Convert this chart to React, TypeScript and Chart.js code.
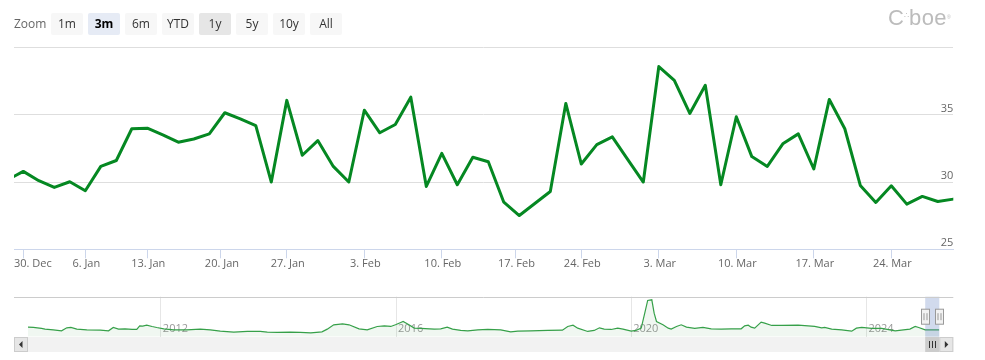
import React, { useEffect, useRef } from 'react';
import { Chart, registerables } from 'chart.js';

Chart.register(...registerables);

// ---------- main series (trading days, 27 Dec 2024 – 28 Mar 2025) ----------
const DATES = [
  '2024-12-27', '2024-12-30', '2024-12-31', '2025-01-02', '2025-01-03',
  '2025-01-06', '2025-01-07', '2025-01-08', '2025-01-10',
  '2025-01-13', '2025-01-14', '2025-01-15', '2025-01-16', '2025-01-17',
  '2025-01-21', '2025-01-22', '2025-01-23', '2025-01-24',
  '2025-01-27', '2025-01-28', '2025-01-29', '2025-01-30', '2025-01-31',
  '2025-02-03', '2025-02-04', '2025-02-05', '2025-02-06', '2025-02-07',
  '2025-02-10', '2025-02-11', '2025-02-12', '2025-02-13', '2025-02-14',
  '2025-02-18', '2025-02-19', '2025-02-20', '2025-02-21',
  '2025-02-24', '2025-02-25', '2025-02-26', '2025-02-27', '2025-02-28',
  '2025-03-03', '2025-03-04', '2025-03-05', '2025-03-06', '2025-03-07',
  '2025-03-10', '2025-03-11', '2025-03-12', '2025-03-13', '2025-03-14',
  '2025-03-17', '2025-03-18', '2025-03-19', '2025-03-20', '2025-03-21',
  '2025-03-24', '2025-03-25', '2025-03-26', '2025-03-27', '2025-03-28',
];
const VALUES = [
  30.17, 30.79, 30.1, 29.6, 30.02,
  29.35, 31.16, 31.6, 33.96,
  34.0, 33.5, 32.96, 33.2, 33.58,
  35.15, 34.7, 34.2, 30.0,
  36.07, 31.99, 33.08, 31.16, 30.0,
  35.34, 33.66, 34.28, 36.31, 29.67,
  32.13, 29.8, 31.84, 31.51, 28.5,
  27.51, 28.4, 29.3, 35.84,
  31.34, 32.78, 33.36, 31.66, 30.0,
  38.58, 37.56, 35.1, 37.19, 29.8,
  34.85, 31.89, 31.16, 32.84, 33.58,
  30.97, 36.14, 33.96, 29.75, 28.48,
  29.72, 28.36, 28.93, 28.55, 28.73,
];
const TICK_DATES = [
  '2024-12-30', '2025-01-06', '2025-01-13', '2025-01-20', '2025-01-27',
  '2025-02-03', '2025-02-10', '2025-02-17', '2025-02-24',
  '2025-03-03', '2025-03-10', '2025-03-17', '2025-03-24',
];
const TICK_LABELS = [
  '30. Dec', '6. Jan', '13. Jan', '20. Jan', '27. Jan',
  '3. Feb', '10. Feb', '17. Feb', '24. Feb',
  '3. Mar', '10. Mar', '17. Mar', '24. Mar',
];
const Y_TICKS = [25, 30, 35, 40];
const Y_MIN = 25;
const Y_MAX = 40;
const X_WINDOW_START = 0.4; // visible window starts between 27 Dec and 30 Dec

// ---------- navigator series (long history) ----------
const NAV_YEARS = [
  2009.74, 2009.83, 2009.97, 2010.03, 2010.17, 2010.31, 2010.40, 2010.47, 2010.57, 2010.74,
  2010.97, 2011.11, 2011.19, 2011.28, 2011.39, 2011.51, 2011.59, 2011.64, 2011.69, 2011.76,
  2011.85, 2011.93, 2012.05, 2012.22, 2012.44, 2012.67, 2012.84, 2013.01, 2013.24, 2013.47,
  2013.69, 2013.81, 2013.98, 2014.20, 2014.37, 2014.55, 2014.74, 2014.83, 2014.94, 2015.09,
  2015.20, 2015.37, 2015.51, 2015.68, 2015.80, 2015.91, 2015.99, 2016.08, 2016.12, 2016.19,
  2016.31, 2016.42, 2016.65, 2016.76, 2016.87, 2016.96, 2017.10, 2017.22, 2017.39, 2017.56,
  2017.78, 2017.95, 2018.07, 2018.29, 2018.58, 2018.83, 2018.92, 2019.01, 2019.09, 2019.26,
  2019.37, 2019.46, 2019.54, 2019.66, 2019.77, 2019.86, 2020.00, 2020.08, 2020.17, 2020.23,
  2020.28, 2020.35, 2020.39, 2020.43, 2020.54, 2020.63, 2020.68, 2020.77, 2020.85, 2020.94,
  2021.08, 2021.22, 2021.36, 2021.53, 2021.70, 2021.87, 2021.93, 2021.99, 2022.04, 2022.10,
  2022.21, 2022.27, 2022.39, 2022.56, 2022.84, 2023.12, 2023.24, 2023.29, 2023.41, 2023.58,
  2023.75, 2023.83, 2023.92, 2024.09, 2024.26, 2024.49, 2024.63, 2024.74, 2024.83, 2024.89,
  2025.00, 2025.24,
];
const NAV_VALUES = [
  36.7, 35.7, 32.7, 30.7, 28.7, 25.7, 34.7, 35.7, 30.7, 28.7,
  27.7, 25.7, 35.7, 30.7, 31.7, 29.7, 29.7, 40.7, 39.7, 42.7,
  38.7, 35.7, 31.7, 28.7, 28.7, 30.7, 28.7, 24.7, 21.7, 23.7,
  23.7, 21.7, 20.7, 21.7, 20.7, 19.7, 22.7, 30.7, 43.7, 46.7,
  43.7, 31.7, 28.7, 38.7, 40.7, 38.7, 43.7, 50.7, 53.7, 46.7,
  33.7, 32.7, 30.7, 31.7, 36.7, 30.7, 26.7, 25.7, 28.7, 29.7,
  28.7, 22.7, 24.7, 25.7, 26.7, 27.7, 38.7, 42.7, 33.7, 23.7,
  26.7, 34.7, 30.7, 29.7, 33.7, 30.7, 24.7, 26.7, 33.7, 78.7,
  116.7, 118.7, 78.7, 53.7, 43.7, 33.7, 30.7, 38.7, 43.7, 36.7,
  32.7, 35.7, 31.7, 30.7, 31.7, 31.7, 40.7, 42.7, 36.7, 33.7,
  51.7, 48.7, 41.7, 41.7, 42.7, 38.7, 34.7, 35.7, 30.7, 28.7,
  24.7, 33.7, 35.7, 32.7, 32.7, 25.7, 28.7, 30.7, 38.7, 35.7,
  28.7, 28.7,
];
const NAV_YEAR_TICKS = [2012, 2016, 2020, 2024];
const NAV_Y_MIN = 8;
const NAV_Y_MAX = 128;
const NAV_RANGE_START = 2025.0;

const ZOOM_BUTTONS = ['1m', '3m', '6m', 'YTD', '1y', '5y', '10y', 'All'];
const SELECTED_BUTTON = '3m';
const HOVER_BUTTON = '1y';

const FONT = '"Open Sans", "DejaVu Sans", Arial, sans-serif';
const LINE_GREEN = '#058822';

// ordinal (trading-day) position of any calendar date
function dayNum(s: string) {
  return Date.UTC(+s.slice(0, 4), +s.slice(5, 7) - 1, +s.slice(8, 10)) / 86400000;
}
const DAY_NUMS = DATES.map(dayNum);
function ordinalPos(date: string) {
  const d = dayNum(date);
  for (let i = 0; i < DAY_NUMS.length; i++) {
    if (DAY_NUMS[i] === d) return i;
    if (DAY_NUMS[i] > d) {
      return i - 1 + (d - DAY_NUMS[i - 1]) / (DAY_NUMS[i] - DAY_NUMS[i - 1]);
    }
  }
  return DAY_NUMS.length - 1;
}
const TICK_POS = TICK_DATES.map(ordinalPos);

const xLabelPlugin = {
  id: 'xLabels',
  afterDraw(chart: any) {
    const ctx = chart.ctx;
    const xs = chart.scales.x;
    const area = chart.chartArea;
    ctx.save();
    ctx.font = `11px ${FONT}`;
    ctx.fillStyle = '#666666';
    ctx.textBaseline = 'middle';
    ctx.textAlign = 'left';
    TICK_POS.forEach((p, i) => {
      const t = TICK_LABELS[i];
      const w = ctx.measureText(t).width;
      let x = xs.getPixelForValue(p) - w / 2 + 1;
      if (x < area.left) x = area.left;
      if (x + w > area.right) x = area.right - w;
      ctx.fillText(t, x, area.bottom + 15);
    });
    ctx.restore();
  },
};

const SCROLL_BTN = 14;
const navPlugin = {
  id: 'navDecor',
  beforeDatasetsDraw(chart: any) {
    const ctx = chart.ctx;
    const xs = chart.scales.x;
    const area = chart.chartArea;
    ctx.save();
    ctx.font = `11px ${FONT}`;
    ctx.fillStyle = '#999999';
    ctx.textBaseline = 'middle';
    ctx.textAlign = 'left';
    NAV_YEAR_TICKS.forEach((y) => {
      ctx.fillText(String(y), xs.getPixelForValue(y) + 2, area.bottom - 7.5);
    });
    ctx.restore();
  },
  afterDraw(chart: any) {
    const ctx = chart.ctx;
    const xs = chart.scales.x;
    const area = chart.chartArea;
    const left = area.left - SCROLL_BTN;
    const right = area.right + SCROLL_BTN;
    const x0 = xs.getPixelForValue(NAV_RANGE_START);
    const x1 = area.right;
    ctx.save();
    // mask
    ctx.fillStyle = 'rgba(102,133,194,0.3)';
    ctx.fillRect(x0, area.top, x1 - x0, area.bottom - area.top);
    // top outline
    ctx.strokeStyle = '#cccccc';
    ctx.lineWidth = 1;
    ctx.beginPath();
    ctx.moveTo(left, Math.round(area.top) + 0.5);
    ctx.lineTo(right, Math.round(area.top) + 0.5);
    ctx.stroke();
    // scrollbar
    const sy = Math.round(area.bottom);
    const sh = 15;
    ctx.fillStyle = '#f2f2f2';
    ctx.fillRect(left, sy, right - left, sh);
    // thumb
    ctx.fillStyle = '#cccccc';
    ctx.fillRect(x0, sy, x1 - x0, sh);
    ctx.strokeStyle = '#333333';
    const cx = Math.round((x0 + x1) / 2);
    [-3, 0, 3].forEach((d) => {
      ctx.beginPath();
      ctx.moveTo(cx + d + 0.5, sy + 4);
      ctx.lineTo(cx + d + 0.5, sy + 11);
      ctx.stroke();
    });
    // buttons
    const drawBtn = (bx: number, dir: number) => {
      ctx.fillStyle = '#e6e6e6';
      ctx.fillRect(bx, sy, SCROLL_BTN, sh);
      ctx.strokeStyle = '#cccccc';
      ctx.strokeRect(bx + 0.5, sy + 0.5, SCROLL_BTN - 1, sh - 1);
      ctx.fillStyle = '#333333';
      const mx = bx + SCROLL_BTN / 2;
      const my = sy + sh / 2;
      ctx.beginPath();
      ctx.moveTo(mx + dir * 2, my);
      ctx.lineTo(mx - dir * 1.5, my - 3.5);
      ctx.lineTo(mx - dir * 1.5, my + 3.5);
      ctx.closePath();
      ctx.fill();
    };
    drawBtn(left, -1);
    drawBtn(area.right, 1);
    // handles
    [x0, x1].forEach((hx) => {
      const hy = area.top + 12.5;
      const rx = Math.round(hx - 4) + 0.5;
      ctx.fillStyle = '#f2f2f2';
      ctx.fillRect(rx, hy, 8, 15);
      ctx.strokeStyle = '#999999';
      ctx.strokeRect(rx, hy, 8, 15);
      [2.5, 5.5].forEach((d) => {
        ctx.beginPath();
        ctx.moveTo(rx + d, hy + 4);
        ctx.lineTo(rx + d, hy + 11);
        ctx.stroke();
      });
    });
    ctx.restore();
  },
};

export default function App() {
  const mainRef = useRef<HTMLCanvasElement | null>(null);
  const navRef = useRef<HTMLCanvasElement | null>(null);

  useEffect(() => {
    if (!mainRef.current || !navRef.current) return;
    const main = new Chart(mainRef.current, {
      type: 'line',
      data: {
        datasets: [
          {
            data: VALUES.map((v, i) => ({ x: i, y: v })),
            borderColor: LINE_GREEN,
            borderWidth: 3,
            pointRadius: 0,
            tension: 0,
            fill: false,
            borderJoinStyle: 'round',
            borderCapStyle: 'round',
          },
        ],
      },
      options: {
        animation: false,
        responsive: false,
        events: [],
        layout: { padding: { left: 14, right: 31.7, top: 47.5, bottom: 35.7 } },
        plugins: { legend: { display: false }, tooltip: { enabled: false } },
        scales: {
          x: {
            type: 'linear',
            min: X_WINDOW_START,
            max: DATES.length - 1,
            afterBuildTicks: (s: any) => {
              s.ticks = TICK_POS.map((v) => ({ value: v }));
            },
            afterFit: (s: any) => {
              s.height = 0;
            },
            ticks: { display: false },
            grid: { display: true, drawOnChartArea: false, drawTicks: true, tickLength: 9, color: '#ccd6eb' },
            border: { display: true, color: '#ccd6eb' },
          },
          y: {
            type: 'linear',
            position: 'right',
            min: Y_MIN,
            max: Y_MAX,
            afterBuildTicks: (s: any) => {
              s.ticks = Y_TICKS.map((v) => ({ value: v }));
            },
            afterFit: (s: any) => {
              s.width = 0;
            },
            ticks: {
              mirror: true,
              padding: 0,
              labelOffset: -6,
              color: '#666666',
              font: { family: FONT, size: 11 },
              callback: (v: any) => (v === Y_MAX ? '' : String(v)),
            },
            grid: { color: '#dedede', drawTicks: false },
            border: { display: false },
          },
        },
      },
      plugins: [xLabelPlugin],
    } as any);

    const nav = new Chart(navRef.current, {
      type: 'line',
      data: {
        datasets: [
          {
            data: NAV_YEARS.map((y, i) => ({ x: y, y: NAV_VALUES[i] })),
            borderColor: '#36a049',
            borderWidth: 1.2,
            pointRadius: 0,
            tension: 0,
            fill: 'start',
            backgroundColor: 'rgba(58,159,76,0.08)',
          },
        ],
      },
      options: {
        animation: false,
        responsive: false,
        events: [],
        layout: { padding: { left: 28, right: 45.7, top: 11.7, bottom: 23.3 } },
        plugins: { legend: { display: false }, tooltip: { enabled: false } },
        scales: {
          x: {
            type: 'linear',
            min: NAV_YEARS[0],
            max: NAV_YEARS[NAV_YEARS.length - 1],
            afterBuildTicks: (s: any) => {
              s.ticks = NAV_YEAR_TICKS.map((v) => ({ value: v }));
            },
            afterFit: (s: any) => {
              s.height = 0;
            },
            ticks: { display: false },
            grid: { display: true, drawTicks: false, color: '#e6e6e6' },
            border: { display: false },
          },
          y: { display: false, min: NAV_Y_MIN, max: NAV_Y_MAX },
        },
      },
      plugins: [navPlugin],
    } as any);

    return () => {
      main.destroy();
      nav.destroy();
    };
  }, []);

  const btnBg = (b: string) =>
    b === SELECTED_BUTTON ? '#e6ebf5' : b === HOVER_BUTTON ? '#e6e6e6' : '#f7f7f7';

  return (
    <div
      style={{
        position: 'absolute',
        left: 0,
        top: 0,
        width: 985,
        height: 360,
        overflow: 'hidden',
        background: '#ffffff',
        fontFamily: FONT,
      }}
    >
      <canvas
        ref={mainRef}
        width={985}
        height={285}
        style={{ position: 'absolute', left: 0, top: 0, width: 985, height: 285, display: 'block' }}
      />
      <canvas
        ref={navRef}
        width={985}
        height={75}
        style={{ position: 'absolute', left: 0, top: 285, width: 985, height: 75, display: 'block' }}
      />
      <div
        style={{
          position: 'absolute',
          left: 14,
          top: 13,
          height: 22,
          lineHeight: '22px',
          fontSize: 12,
          color: '#666666',
        }}
      >
        Zoom
      </div>
      {ZOOM_BUTTONS.map((b, i) => (
        <div
          key={b}
          style={{
            position: 'absolute',
            left: 51 + 37 * i,
            top: 13,
            width: 32,
            height: 22,
            lineHeight: '22px',
            textAlign: 'center',
            fontSize: 12,
            borderRadius: 2,
            background: btnBg(b),
            color: b === SELECTED_BUTTON ? '#000000' : '#333333',
            fontWeight: b === SELECTED_BUTTON ? 700 : 400,
          }}
        >
          {b}
        </div>
      ))}
      <div
        style={{
          position: 'absolute',
          left: 888,
          top: 5,
          height: 26,
          lineHeight: '26px',
          fontFamily: '"Liberation Sans", Arial, sans-serif',
          fontSize: 22,
          color: '#bcbcbc',
          whiteSpace: 'nowrap',
        }}
      >
        <span>C</span>
        <span style={{ fontSize: 8, verticalAlign: 'top', position: 'relative', top: -2 }}>∴</span>
        <span style={{ letterSpacing: 0.5 }}>boe</span>
        <span style={{ fontSize: 5, verticalAlign: 'top', position: 'relative', top: -1 }}>®</span>
      </div>
    </div>
  );
}
